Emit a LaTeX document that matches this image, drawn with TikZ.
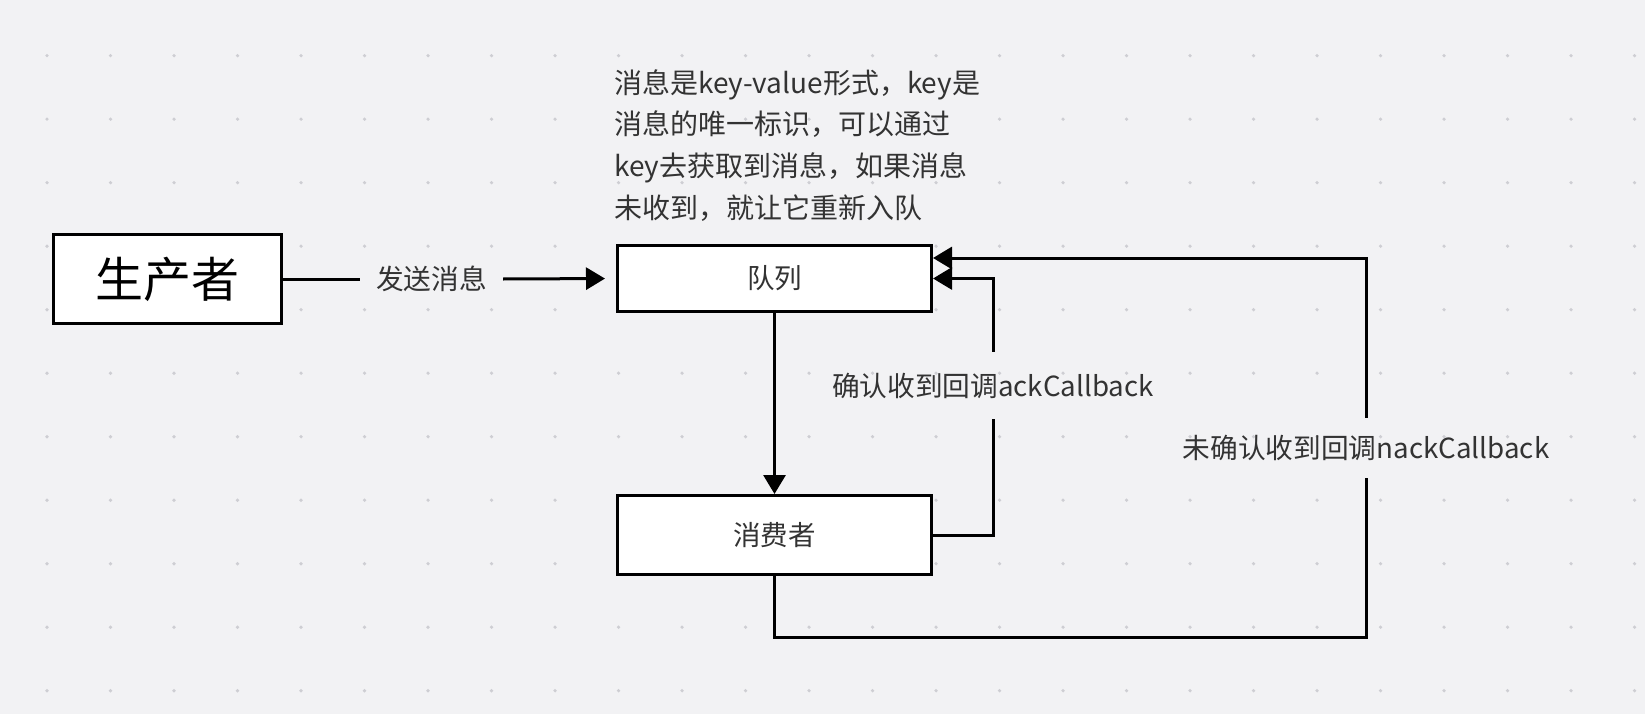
\documentclass[tikz,border=0pt]{standalone}
\usepackage{fontspec}
\setmainfont{Noto Sans CJK SC}
\usetikzlibrary{arrows.meta, positioning}
\definecolor{canvasGray}{RGB}{242,242,244}
\definecolor{dotGray}{RGB}{206,206,211}
\definecolor{textGray}{RGB}{51,51,51}

\begin{document}
\begin{tikzpicture}[x=1pt, y=-1pt,
  box/.style={draw=black, fill=white, line width=3pt, inner sep=0pt, text=textGray, font=\fontsize{27.5}{32}\selectfont},
  lbl/.style={inner sep=0pt, minimum height=64pt, text=textGray, font=\fontsize{27.7}{32}\selectfont},
  flow/.style={draw=black, line width=3pt, -{Triangle[length=19pt, width=22pt]}},
  plain/.style={draw=black, line width=3pt}]
% Canvas and dot grid
\fill[canvasGray] (0,0) rectangle (1645,714);
\useasboundingbox (0,0) rectangle (1645,714);
\foreach \i in {0,...,25}
  \foreach \j in {0,...,10}
    \fill[dotGray] (47+63.5*\i, 55.7+63.5*\j) circle (1.8pt);

% Boxes
\node[box, minimum width=228pt, minimum height=89pt, text=black, font=\fontsize{48}{52}\selectfont] (producer) at (167.5,279) {生产者};
\node[box, minimum width=314pt, minimum height=66pt] (queue) at (774.5,278.5) {队列};
\node[box, minimum width=314pt, minimum height=79pt] (consumer) at (774.5,535) {消费者};

% Note
\node[anchor=north west, inner sep=0pt, align=left, text=textGray, font=\fontsize{28}{41.5}\selectfont] (note) at (614,69.5)
  {消息是key-value形式，key是\\消息的唯一标识，可以通过\\key去获取到消息，如果消息\\未收到，就让它重新入队};

% Labels
\node[lbl, minimum width=143pt] (send) at (431.5,279) {发送消息};
\node[lbl, minimum height=67pt] (ack) at (993,385.5) {确认收到回调ackCallback};
\node[lbl, minimum height=60pt] (nack) at (1366,448) {未确认收到回调nackCallback};

% Connectors
\draw[plain] (producer.east) -- (send.west);
\draw[flow, shorten >=11pt] (send.east) -- (queue.west);
\draw[flow] (queue.south) -- (consumer.north);
\draw[plain] (consumer.east) -| (ack.south);
\draw[flow] (ack.north) |- (queue.east);
\draw[plain] (consumer.south) -- ++(0,61) -| (nack.south);
\draw[flow] (nack.north) |- ([yshift=20.5pt]queue.east);
\end{tikzpicture}
\end{document}
